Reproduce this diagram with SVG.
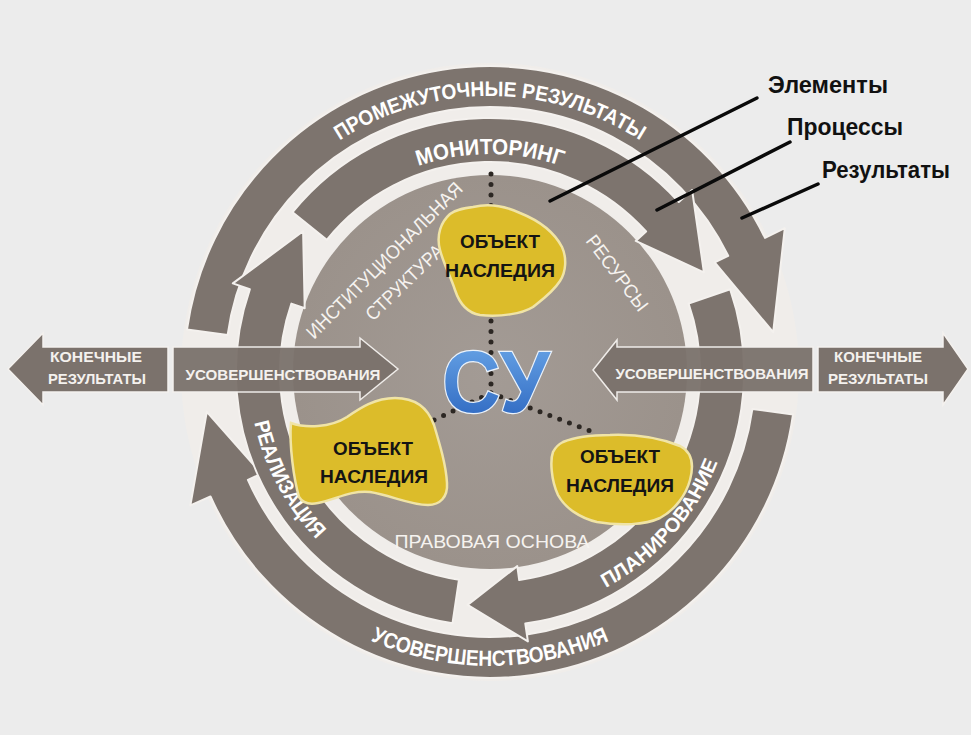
<svg xmlns="http://www.w3.org/2000/svg" width="971" height="735" viewBox="0 0 971 735">
<style>
.band{fill:#7d746e;stroke:#f4f1ee;stroke-width:2;stroke-linejoin:round}
.harrow{fill:#7b726c;stroke:#f4f1ee;stroke-width:1.5}
.bt{font-family:"Liberation Sans",Arial,sans-serif;font-weight:bold;fill:#ffffff}
.ht{font-family:"Liberation Sans",Arial,sans-serif;font-weight:bold;fill:#f4f1ee;font-size:15px;text-anchor:middle}
.it{font-family:"Liberation Sans",Arial,sans-serif;fill:#f6f3f0;font-size:19px;text-anchor:middle}
.blob{fill:#dcbc2a;stroke:#f0e4a6;stroke-width:2.5}
.bl{font-family:"Liberation Sans",Arial,sans-serif;font-weight:bold;fill:#141414;font-size:19px;text-anchor:middle}
.leg{font-family:"Liberation Sans",Arial,sans-serif;font-weight:bold;font-size:23px;fill:#111111}
.lline{stroke:#0a0a0a;stroke-width:3.5;stroke-linecap:round;fill:none}
.dots{stroke:#2c2723;stroke-width:5;stroke-linecap:round;stroke-dasharray:0 10.5;fill:none}
</style>
<defs>
<linearGradient id="suGrad" x1="0" y1="0" x2="0" y2="1">
<stop offset="0" stop-color="#6eaaea"/>
<stop offset="1" stop-color="#2862bd"/>
</linearGradient>
<radialGradient id="discGrad" cx="0.5" cy="0.5" r="0.5">
<stop offset="0" stop-color="#a39b95"/>
<stop offset="1" stop-color="#9b928b"/>
</radialGradient>
<path id="pTopOuter" d="M 214,372 A 276 276 0 0 1 766,372"/>
<path id="pTopMid" d="M 272,372 A 218 218 0 0 1 708,372"/>
<path id="pBotOuter" d="M 196,372 A 294 294 0 0 0 784,372"/>
<path id="pPlan" d="M 525.4,614.4 A 245 245 0 0 0 734.9,379.3"/>
<path id="pReal" d="M 254.2,322.0 A 241 241 0 0 0 399.7,595.4"/>
</defs>
<rect x="0" y="0" width="971" height="735" fill="#ececec"/>
<circle cx="490" cy="372" r="309" fill="#f0edea"/>

<g id="elements-disc">
<circle cx="490" cy="372" r="197" fill="url(#discGrad)"/>
</g>

<g id="connectors">
<g id="ring-results">
<path id="arrow-intermediate" class="band" d="M 187.0,329.4 A 306 306 0 0 1 765.0,237.9 L 784.8,228.2 L 773.2,332.2 L 714.7,262.4 L 728.2,255.8 A 265 265 0 0 0 227.6,335.1 Z"/>
<path id="arrow-improve-outer" class="band" d="M 793.0,414.6 A 306 306 0 0 1 210.5,496.5 L 190.4,505.4 L 206.8,411.8 L 261.6,473.7 L 247.9,479.8 A 265 265 0 0 0 752.4,408.9 Z"/>
</g>
<g id="ring-processes">
<path id="arrow-monitoring" class="band" d="M 292.6,212.2 A 254 254 0 0 1 678.8,202.0 L 692.1,190.0 L 703.9,272.3 L 635.7,240.9 L 646.1,231.5 A 210 210 0 0 0 326.8,239.8 Z"/>
<path id="arrow-planning" class="band" d="M 730.2,289.3 A 254 254 0 0 1 525.3,623.5 L 527.9,641.4 L 467.6,604.9 L 517.3,566.1 L 519.2,580.0 A 210 210 0 0 0 688.6,303.6 Z"/>
<path id="arrow-realization" class="band" d="M 452.5,623.2 A 254 254 0 0 1 249.8,289.3 L 232.8,283.4 L 303.1,231.2 L 304.7,308.2 L 291.4,303.6 A 210 210 0 0 0 459.0,579.7 Z"/>
</g>
<g id="dotted-links">
<path class="dots" d="M 491,174 L 491,393"/>
<path class="dots" d="M 491,393 L 432,421"/>
<path class="dots" d="M 491,393 L 598,434"/>
</g>
<g id="horizontal-arrows">
<polygon id="arrow-final-left" class="harrow" points="8,369 43,333 43,347 168,347 168,392 43,392 43,405"/>
<polygon id="arrow-improve-left" class="harrow" points="173,347 360,347 360,338 398,369 360,400 360,392 173,392" opacity="0.95"/>
<polygon id="arrow-improve-right" class="harrow" points="593,370 617,340 617,347 813,347 813,392 617,392 617,400" opacity="0.95"/>
<polygon id="arrow-final-right" class="harrow" points="818,347 943,347 943,333 968,369 943,405 943,392 818,392"/>
</g>
<g id="legend-lines">
<line class="lline" x1="757" y1="98" x2="550" y2="201"/>
<line class="lline" x1="790" y1="142" x2="657" y2="210"/>
<line class="lline" x1="818" y1="184" x2="742" y2="218"/>
</g>
</g>

<g id="ring-labels">
<text class="bt" font-size="21"><textPath href="#pTopOuter" startOffset="50%" text-anchor="middle" textLength="318" lengthAdjust="spacingAndGlyphs">ПРОМЕЖУТОЧНЫЕ РЕЗУЛЬТАТЫ</textPath></text>
<text class="bt" font-size="22"><textPath href="#pTopMid" startOffset="50%" text-anchor="middle" textLength="146" lengthAdjust="spacingAndGlyphs">МОНИТОРИНГ</textPath></text>
<text class="bt" font-size="22"><textPath href="#pBotOuter" startOffset="50%" text-anchor="middle" textLength="246" lengthAdjust="spacingAndGlyphs">УСОВЕРШЕНСТВОВАНИЯ</textPath></text>
<text class="bt" font-size="20"><textPath href="#pPlan" startOffset="50%" text-anchor="middle" textLength="172" lengthAdjust="spacingAndGlyphs">ПЛАНИРОВАНИЕ</textPath></text>
<text class="bt" font-size="21"><textPath href="#pReal" startOffset="50%" text-anchor="middle" textLength="134" lengthAdjust="spacingAndGlyphs">РЕАЛИЗАЦИЯ</textPath></text>
</g>

<g id="element-labels">
<text class="it" transform="translate(389,265) rotate(-45)" textLength="212" lengthAdjust="spacingAndGlyphs">ИНСТИТУЦИОНАЛЬНАЯ</text>
<text class="it" transform="translate(409,287) rotate(-44)" textLength="100" lengthAdjust="spacingAndGlyphs">СТРУКТУРА</text>
<text class="it" transform="translate(612,277) rotate(53)" textLength="90" lengthAdjust="spacingAndGlyphs">РЕСУРСЫ</text>
<text class="it" x="492" y="548" font-size="18" textLength="195" lengthAdjust="spacingAndGlyphs" fill="#ece8e4">ПРАВОВАЯ ОСНОВА</text>
</g>

<g id="heritage-top">
<path class="blob" d="M 473,207 C 490,203 505,206 520,213 C 535,219 552,228 562,247 C 567,258 566,272 560,281 C 553,292 542,300 533,307 C 522,314 500,317 480,315 C 468,313 460,305 455,290 C 450,275 444,265 440,250 C 436,235 441,222 450,214 C 457,209 465,208 473,207 Z"/>
<text class="bl" x="500" y="248" textLength="80" lengthAdjust="spacingAndGlyphs">ОБЪЕКТ</text>
<text class="bl" x="500" y="277" textLength="110" lengthAdjust="spacingAndGlyphs">НАСЛЕДИЯ</text>
</g>
<g id="heritage-left">
<path class="blob" d="M 291,423 C 305,428 330,428 347,417 C 360,408 375,398 395,398 C 415,398 428,408 434,425 C 440,445 446,465 447,483 C 448,497 440,505 428,505 C 410,505 390,495 370,492 C 350,490 335,500 318,503 C 308,505 302,502 299,497 C 294,480 289,445 291,423 Z"/>
<text class="bl" x="373" y="455" textLength="80" lengthAdjust="spacingAndGlyphs">ОБЪЕКТ</text>
<text class="bl" x="374" y="483" textLength="108" lengthAdjust="spacingAndGlyphs">НАСЛЕДИЯ</text>
</g>
<g id="heritage-right">
<path class="blob" d="M 563,442 C 575,437 590,435 610,435 C 635,434 660,438 680,446 C 692,452 694,465 690,480 C 686,495 675,510 660,518 C 645,525 620,526 597,522 C 580,518 565,508 558,495 C 551,480 550,460 553,452 C 556,446 559,444 563,442 Z"/>
<text class="bl" x="620" y="463" textLength="80" lengthAdjust="spacingAndGlyphs">ОБЪЕКТ</text>
<text class="bl" x="620" y="492" textLength="108" lengthAdjust="spacingAndGlyphs">НАСЛЕДИЯ</text>
</g>

<g id="center-su">
<text x="496" y="412" font-family="Liberation Sans, Arial, sans-serif" font-weight="bold" font-size="88" text-anchor="middle" textLength="108" lengthAdjust="spacingAndGlyphs" fill="url(#suGrad)" stroke="#eaf2fb" stroke-width="2.5" paint-order="stroke">СУ</text>
</g>

<g id="final-left-label">
<text class="ht" x="96" y="362" textLength="92" lengthAdjust="spacingAndGlyphs">КОНЕЧНЫЕ</text>
<text class="ht" x="97" y="384" textLength="98" lengthAdjust="spacingAndGlyphs">РЕЗУЛЬТАТЫ</text>
</g>
<g id="improve-left-label">
<text class="ht" x="283" y="380" textLength="195" lengthAdjust="spacingAndGlyphs">УСОВЕРШЕНСТВОВАНИЯ</text>
</g>
<g id="improve-right-label">
<text class="ht" x="712" y="379" textLength="193" lengthAdjust="spacingAndGlyphs">УСОВЕРШЕНСТВОВАНИЯ</text>
</g>
<g id="final-right-label">
<text class="ht" x="878" y="362" textLength="88" lengthAdjust="spacingAndGlyphs">КОНЕЧНЫЕ</text>
<text class="ht" x="878" y="384" textLength="100" lengthAdjust="spacingAndGlyphs">РЕЗУЛЬТАТЫ</text>
</g>

<g id="legend">
<text id="legend-elements" class="leg" x="768" y="93" textLength="120" lengthAdjust="spacingAndGlyphs">Элементы</text>
<text id="legend-processes" class="leg" x="787" y="135" textLength="116" lengthAdjust="spacingAndGlyphs">Процессы</text>
<text id="legend-results" class="leg" x="822" y="178" textLength="128" lengthAdjust="spacingAndGlyphs">Результаты</text>
</g>
</svg>
